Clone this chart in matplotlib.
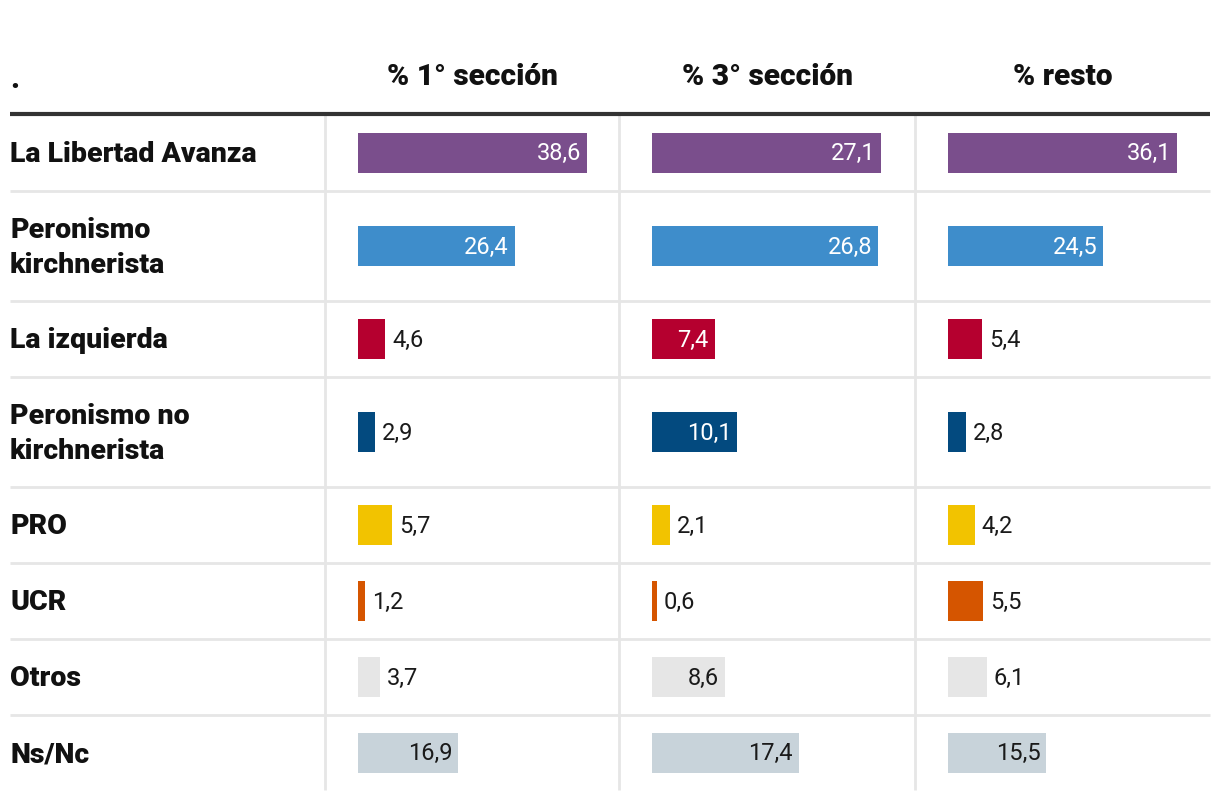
import matplotlib
matplotlib.use("Agg")
import matplotlib.pyplot as plt

# ---- data ----
categories = ["La Libertad Avanza", "Peronismo\nkirchnerista", "La izquierda",
              "Peronismo no\nkirchnerista", "PRO", "UCR", "Otros", "Ns/Nc"]
first_header = "."
column_titles = ["% 1° sección", "% 3° sección", "% resto"]
seccion1 = [38.6, 26.4, 4.6, 2.9, 5.7, 1.2, 3.7, 16.9]
seccion3 = [27.1, 26.8, 7.4, 10.1, 2.1, 0.6, 8.6, 17.4]
resto = [36.1, 24.5, 5.4, 2.8, 4.2, 5.5, 6.1, 15.5]
series = [seccion1, seccion3, resto]

bar_colors = ["#7a4e8c", "#3e8dcb", "#b5002f", "#034a7f",
              "#f2c300", "#d55500", "#e6e6e6", "#c8d3da"]
inside_text_colors = ["white", "white", "white", "white",
                      "#1a1a1a", "#1a1a1a", "#1a1a1a", "#1a1a1a"]

# ---- layout (pixels) ----
W, H = 1220, 810
row_edges = [114, 191, 301, 377, 487, 563, 639, 715, 790]
col_edges = [10, 325, 619, 915, 1210]
bar_offset = 33
bar_full = 229
bar_h = 40

FONT = ["Roboto", "DejaVu Sans"]

fig = plt.figure(figsize=(W / 100, H / 100), dpi=100)
fig.patch.set_facecolor("white")
ax0 = fig.add_axes([0, 0, 1, 1])
ax0.set_xlim(0, W)
ax0.set_ylim(H, 0)
ax0.axis("off")

grid_c = "#e6e6e6"
# horizontal separators
for y in row_edges[1:-1]:
    ax0.plot([col_edges[0], col_edges[-1]], [y, y], color=grid_c, lw=2, solid_capstyle="butt", zorder=1)
# vertical separators
for x in col_edges[1:-1]:
    ax0.plot([x, x], [row_edges[0], row_edges[-1]], color=grid_c, lw=2, solid_capstyle="butt", zorder=1)
# header thick line
ax0.plot([col_edges[0], col_edges[-1]], [row_edges[0], row_edges[0]], color="#333333", lw=3,
         solid_capstyle="butt", zorder=2)

# headers
ax0.text(col_edges[0], 80, first_header, ha="left", va="center", fontsize=21.5,
         fontweight="heavy", family=FONT, color="#111111")
for j, t in enumerate(column_titles):
    xc = (col_edges[j + 1] + col_edges[j + 2]) / 2
    ax0.text(xc, 77, t, ha="center", va="center", fontsize=21.5, fontweight="heavy",
             family=FONT, color="#111111")

centers = [(row_edges[i] + row_edges[i + 1]) / 2 for i in range(len(categories))]

# row labels
for cat, yc in zip(categories, centers):
    ax0.text(col_edges[0], yc + 2, cat, ha="left", va="center", fontsize=20.5,
             fontweight="heavy", family=FONT, color="#111111", linespacing=1.4)

# bar columns
for j, vals in enumerate(series):
    x0 = col_edges[j + 1] + bar_offset
    ax = fig.add_axes([x0 / W, 0, bar_full / W, 1])
    vmax = max(vals)
    ax.set_xlim(0, vmax)
    ax.set_ylim(H, 0)
    ax.axis("off")
    ax.barh(centers, vals, height=bar_h, color=bar_colors, zorder=3)
    for i, (v, yc) in enumerate(zip(vals, centers)):
        lab = f"{v:.1f}".replace(".", ",")
        if v / vmax > 0.22:
            ax.annotate(lab, (v, yc), xytext=(-4.3, -1), textcoords="offset points",
                        ha="right", va="center", fontsize=17, fontweight="normal",
                        family=FONT, color=inside_text_colors[i], zorder=4)
        else:
            ax.annotate(lab, (v, yc), xytext=(5, -1), textcoords="offset points",
                        ha="left", va="center", fontsize=17, fontweight="normal",
                        family=FONT, color="#1a1a1a", zorder=4)

fig.savefig("out.png", dpi=100, facecolor="white")
